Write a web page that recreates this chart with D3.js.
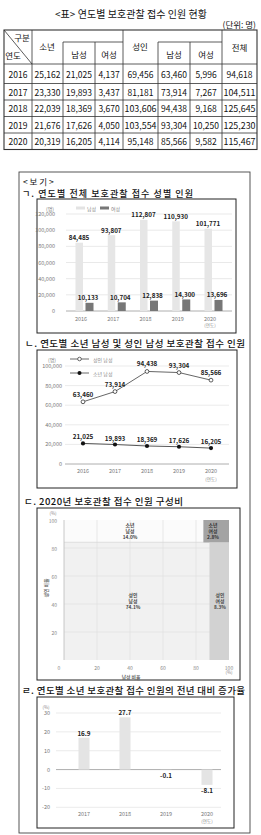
<!DOCTYPE html>
<html><head><meta charset="utf-8">
<script src="https://cdn.jsdelivr.net/npm/d3@7"></script>
<style>
body{margin:0;background:#fff;}
svg{display:block;font-family:"Noto Sans CJK KR","Noto Sans",sans-serif;}
</style></head>
<body>
<script>
// ---------- DATA ----------
const years = [2016, 2017, 2018, 2019, 2020];
const juvTotal = [25162, 23330, 22039, 21676, 20319];
const juvMale = [21025, 19893, 18369, 17626, 16205];
const juvFemale = [4137, 3437, 3670, 4050, 4114];
const adultTotal = [69456, 81181, 103606, 103554, 95148];
const adultMale = [63460, 73914, 94438, 93304, 85566];
const adultFemale = [5996, 7267, 9168, 10250, 9582];
const totalAll = [94618, 104511, 125645, 125230, 115467];

const c1Male = [84485, 93807, 112807, 110930, 101771];
const c1Female = [10133, 10704, 12838, 14300, 13696];
const c1Ticks = [0, 20000, 40000, 60000, 80000, 100000, 120000];

const c2Ticks = [0, 20000, 40000, 60000, 80000, 100000];

const mosaicCols = ["남성", "여성"];
const mosaicWidth = [88.1, 11.9];          // 남성 비율 (%)
const mosaicJuvShare = [15.9, 16.0];       // top segment height within column (%)
const mosaicLabelJuv = ["소년\n남성\n14.0%", "소년\n여성\n2.8%"];
const mosaicLabelAdult = ["성인\n남성\n74.1%", "성인\n여성\n8.3%"];
const mosaicTicks = [0, 20, 40, 60, 80, 100];

const growthYears = [2017, 2018, 2019, 2020];
const growthRate = [16.9, 27.7, -0.1, -8.1];
const growthTicks = [-20, -10, 0, 10, 20, 30];

const fmt = d3.format(",");

const svg = d3.select("body").append("svg").attr("width", 261).attr("height", 835);

function txt(g, x, y, s, o = {}) {
  const t = g.append("text").attr("x", x).attr("y", y).text(s)
    .attr("font-size", o.size || 6).attr("fill", o.fill || "#333")
    .attr("text-anchor", o.anchor || "middle")
    .attr("dominant-baseline", o.base || "central")
    .attr("font-weight", o.weight || "normal");
  if (o.len) t.attr("textLength", o.len).attr("lengthAdjust", "spacing");
  return t;
}

// ---------- TABLE ----------
txt(svg, 131, 13, "<표> 연도별 보호관찰 접수 인원 현황", {size: 10, fill: "#111", len: 152});
txt(svg, 256, 23.5, "(단위: 명)", {size: 8.5, fill: "#111", anchor: "end"});

const colX = [4, 32, 63, 95, 123, 158, 190, 222, 257];
const rowY = [64, 83.5, 100, 116.5, 133, 149.5];
const tb = svg.append("g").attr("stroke", "#333").attr("stroke-width", 0.8);
tb.append("rect").attr("x", 4).attr("y", 30).attr("width", 253).attr("height", 119.5).attr("fill", "none").attr("stroke-width", 1.1);
tb.append("line").attr("x1", 63).attr("x2", 123).attr("y1", 42).attr("y2", 42);
tb.append("line").attr("x1", 158).attr("x2", 222).attr("y1", 42).attr("y2", 42);
[32, 123, 222].forEach(x => tb.append("line").attr("x1", x).attr("x2", x).attr("y1", 30).attr("y2", 149.5));
[63, 95, 158, 190].forEach(x => tb.append("line").attr("x1", x).attr("x2", x).attr("y1", 42).attr("y2", 149.5));
rowY.slice(0, 5).forEach(y => tb.append("line").attr("x1", 4).attr("x2", 257).attr("y1", y).attr("y2", y));
tb.append("line").attr("x1", 4).attr("y1", 30).attr("x2", 32).attr("y2", 64);
const hs = {size: 8.5, fill: "#111"};
txt(svg, 22, 37, "구분", hs);
txt(svg, 13, 55, "연도", hs);
txt(svg, 47, 46, "소년", hs);
txt(svg, 79, 54, "남성", hs);
txt(svg, 109, 54, "여성", hs);
txt(svg, 140, 46, "성인", hs);
txt(svg, 174, 54, "남성", hs);
txt(svg, 206, 54, "여성", hs);
txt(svg, 239.5, 47, "전체", hs);
const cols = [years, juvTotal, juvMale, juvFemale, adultTotal, adultMale, adultFemale, totalAll];
years.forEach((yr, i) => {
  const cy = (rowY[i] + rowY[i + 1]) / 2;
  cols.forEach((arr, j) => {
    const v = arr[i];
    const s = j === 0 ? String(v) : fmt(v);
    const cx = (colX[j] + colX[j + 1]) / 2;
    const w = colX[j + 1] - colX[j] - 3;
    const t = txt(svg, cx, cy, s, {size: 8.5, fill: "#111"});
    if (s.length >= 7) t.attr("textLength", Math.min(w, 33)).attr("lengthAdjust", "spacingAndGlyphs");
  });
});

// ---------- 보기 BOX ----------
svg.append("rect").attr("x", 19).attr("y", 172).attr("width", 231).attr("height", 661)
  .attr("fill", "none").attr("stroke", "#444").attr("stroke-width", 0.9);
txt(svg, 23, 181, "< 보 기 >", {size: 8.5, fill: "#111", anchor: "start"});

const box = (x, y, w, h) => svg.append("rect").attr("x", x).attr("y", y).attr("width", w).attr("height", h)
  .attr("fill", "#fff").attr("stroke", "#222").attr("stroke-width", 1);

// ---------- CHART 1 ----------
txt(svg, 22, 193.5, "ㄱ. 연도별 전체 보호관찰 접수 성별 인원", {size: 9, fill: "#111", anchor: "start", len: 171, weight: 500});
box(37, 199, 199, 134);
const g1 = svg.append("g");
const x1 = d3.scalePoint().domain(years).range([81, 210]);
const y1 = d3.scaleLinear().domain([0, 120000]).range([311, 214]);
g1.selectAll(".gl").data(c1Ticks).join("line")
  .attr("x1", 66).attr("x2", 232).attr("y1", d => y1(d)).attr("y2", d => y1(d))
  .attr("stroke", d => d === 0 ? "#999" : "#e3e3e3").attr("stroke-width", 0.8);
g1.selectAll(".tl").data(c1Ticks).join("text")
  .attr("x", 55).attr("y", d => y1(d)).text(d => fmt(d))
  .attr("font-size", 5.5).attr("fill", "#777").attr("text-anchor", "end").attr("dominant-baseline", "central");
txt(g1, 50, 208, "(명)", {size: 5, fill: "#777"});
g1.append("rect").attr("x", 76).attr("y", 206.5).attr("width", 9).attr("height", 3).attr("fill", "#e3e3e3");
txt(g1, 87, 208, "남성", {size: 5, fill: "#888", anchor: "start"});
g1.append("rect").attr("x", 100).attr("y", 206.5).attr("width", 9).attr("height", 3).attr("fill", "#777");
txt(g1, 111, 208, "여성", {size: 5, fill: "#888", anchor: "start"});
g1.selectAll(".bm").data(years).join("rect")
  .attr("x", d => x1(d) - 5.5).attr("width", 7.5)
  .attr("y", (d, i) => y1(c1Male[i])).attr("height", (d, i) => y1(0) - y1(c1Male[i]))
  .attr("fill", "#e6e6e6");
g1.selectAll(".bf").data(years).join("rect")
  .attr("x", d => x1(d) + 4.5).attr("width", 8)
  .attr("y", (d, i) => y1(c1Female[i])).attr("height", (d, i) => y1(0) - y1(c1Female[i]))
  .attr("fill", "#777");
g1.selectAll(".lm").data(years).join("text")
  .attr("x", d => x1(d) - 2).attr("y", (d, i) => y1(c1Male[i]) - 5).text((d, i) => fmt(c1Male[i]))
  .attr("font-size", 6.3).attr("font-weight", "bold").attr("fill", "#222").attr("text-anchor", "middle").attr("dominant-baseline", "central");
g1.selectAll(".lf").data(years).join("text")
  .attr("x", d => x1(d) + 7).attr("y", (d, i) => y1(c1Female[i]) - 5).text((d, i) => fmt(c1Female[i]))
  .attr("font-size", 6.3).attr("font-weight", "bold").attr("fill", "#222").attr("text-anchor", "middle").attr("dominant-baseline", "central");
g1.selectAll(".yl").data(years).join("text")
  .attr("x", d => x1(d)).attr("y", 318.5).text(d => d)
  .attr("font-size", 5.5).attr("fill", "#777").attr("text-anchor", "middle").attr("dominant-baseline", "central");
txt(g1, x1(2020), 325, "(연도)", {size: 4.5, fill: "#888"});

// ---------- CHART 2 ----------
txt(svg, 25, 343, "ㄴ. 연도별 소년 남성 및 성인 남성 보호관찰 접수 인원", {size: 9.5, fill: "#111", anchor: "start", len: 220, weight: 500});
box(37, 350, 200, 138);
const g2 = svg.append("g");
const x2 = d3.scalePoint().domain(years).range([83, 211]);
const y2 = d3.scaleLinear().domain([0, 100000]).range([464, 366]);
g2.selectAll(".gl").data(c2Ticks).join("line")
  .attr("x1", 65).attr("x2", 229).attr("y1", d => y2(d)).attr("y2", d => y2(d))
  .attr("stroke", d => d === 0 ? "#999" : "#e6e6e6").attr("stroke-width", 0.8);
g2.selectAll(".tl").data(c2Ticks).join("text")
  .attr("x", 62).attr("y", d => y2(d)).text(d => fmt(d))
  .attr("font-size", 5.5).attr("fill", "#777").attr("text-anchor", "end").attr("dominant-baseline", "central");
txt(g2, 52, 359, "(명)", {size: 5, fill: "#777"});
g2.append("line").attr("x1", 70).attr("x2", 89).attr("y1", 359).attr("y2", 359).attr("stroke", "#444").attr("stroke-width", 0.8);
g2.append("circle").attr("cx", 79.5).attr("cy", 359).attr("r", 1.8).attr("fill", "#fff").attr("stroke", "#444").attr("stroke-width", 0.8);
txt(g2, 93, 359, "성인 남성", {size: 5, fill: "#888", anchor: "start"});
g2.append("line").attr("x1", 70).attr("x2", 89).attr("y1", 373).attr("y2", 373).attr("stroke", "#444").attr("stroke-width", 0.8);
g2.append("circle").attr("cx", 79.5).attr("cy", 373).attr("r", 2).attr("fill", "#111");
txt(g2, 93, 373, "소년 남성", {size: 5, fill: "#888", anchor: "start"});
const line2 = arr => d3.line().x((d, i) => x2(years[i])).y(d => y2(d))(arr);
g2.append("path").attr("d", line2(adultMale)).attr("fill", "none").attr("stroke", "#555").attr("stroke-width", 0.9);
g2.append("path").attr("d", line2(juvMale)).attr("fill", "none").attr("stroke", "#444").attr("stroke-width", 0.9);
g2.selectAll(".pa").data(adultMale).join("circle")
  .attr("cx", (d, i) => x2(years[i])).attr("cy", d => y2(d)).attr("r", 1.9)
  .attr("fill", "#fff").attr("stroke", "#333").attr("stroke-width", 0.8);
g2.selectAll(".pj").data(juvMale).join("circle")
  .attr("cx", (d, i) => x2(years[i])).attr("cy", d => y2(d)).attr("r", 2.1).attr("fill", "#111");
g2.selectAll(".la").data(adultMale).join("text")
  .attr("x", (d, i) => x2(years[i])).attr("y", d => y2(d) - 7.5).text(d => fmt(d))
  .attr("font-size", 6.3).attr("font-weight", "bold").attr("fill", "#222").attr("text-anchor", "middle").attr("dominant-baseline", "central");
g2.selectAll(".lj").data(juvMale).join("text")
  .attr("x", (d, i) => x2(years[i])).attr("y", d => y2(d) - 6.5).text(d => fmt(d))
  .attr("font-size", 6.3).attr("font-weight", "bold").attr("fill", "#222").attr("text-anchor", "middle").attr("dominant-baseline", "central");
g2.selectAll(".yl").data(years).join("text")
  .attr("x", d => x2(d)).attr("y", 471).text(d => d)
  .attr("font-size", 5.5).attr("fill", "#777").attr("text-anchor", "middle").attr("dominant-baseline", "central");
txt(g2, x2(2020), 479, "(연도)", {size: 4.5, fill: "#888"});

// ---------- CHART 3 (mosaic) ----------
txt(svg, 24, 501, "ㄷ. 2020년 보호관찰 접수 인원 구성비", {size: 9.5, fill: "#111", anchor: "start", len: 159, weight: 500});
box(37, 508, 203, 172);
const g3 = svg.append("g");
const xm = d3.scaleLinear().domain([0, 100]).range([64, 229]);
const ym = d3.scaleLinear().domain([0, 100]).range([660, 520]);
let acc = 0;
const colStart = mosaicWidth.map(w => { const s = acc; acc += w; return s; });
g3.append("rect").attr("x", xm(colStart[0])).attr("width", xm(mosaicWidth[0]) - xm(0))
  .attr("y", ym(100)).attr("height", ym(100 - mosaicJuvShare[0]) - ym(100)).attr("fill", "#fbfbfb");
g3.append("rect").attr("x", xm(colStart[0])).attr("width", xm(mosaicWidth[0]) - xm(0))
  .attr("y", ym(100 - mosaicJuvShare[0])).attr("height", ym(0) - ym(100 - mosaicJuvShare[0])).attr("fill", "#f1f1f1");
g3.selectAll(".gv").data(mosaicTicks.slice(1, 5)).join("line")
  .attr("x1", d => xm(d)).attr("x2", d => xm(d)).attr("y1", ym(0)).attr("y2", ym(100))
  .attr("stroke", "#e0e0e0").attr("stroke-width", 0.7);
g3.selectAll(".gh").data(mosaicTicks.slice(1, 5)).join("line")
  .attr("x1", xm(0)).attr("x2", xm(100)).attr("y1", d => ym(d)).attr("y2", d => ym(d))
  .attr("stroke", "#e0e0e0").attr("stroke-width", 0.7);
g3.append("line").attr("x1", xm(0)).attr("x2", xm(mosaicWidth[0])).attr("y1", ym(100 - mosaicJuvShare[0])).attr("y2", ym(100 - mosaicJuvShare[0]))
  .attr("stroke", "#d8d8d8").attr("stroke-width", 0.8);
g3.append("rect").attr("x", xm(colStart[1])).attr("width", xm(mosaicWidth[1]) - xm(0))
  .attr("y", ym(100 - mosaicJuvShare[1])).attr("height", ym(0) - ym(100 - mosaicJuvShare[1])).attr("fill", "#d2d2d2");
g3.append("rect").attr("x", xm(colStart[1]) - 6).attr("width", xm(mosaicWidth[1]) - xm(0) + 6)
  .attr("y", ym(100)).attr("height", ym(100 - mosaicJuvShare[1]) - ym(100)).attr("fill", "#a3a3a3");
g3.append("line").attr("x1", xm(0)).attr("x2", xm(0)).attr("y1", ym(0)).attr("y2", ym(100)).attr("stroke", "#bbb").attr("stroke-width", 0.8);
function multi(g, x, y, s, fill) {
  s.split("\n").forEach((p, k) => txt(g, x, y + k * 6, p, {size: 4.8, fill: fill, weight: "bold"}));
}
multi(g3, 130, 524, mosaicLabelJuv[0], "#444");
multi(g3, 213, 524, mosaicLabelJuv[1], "#333");
multi(g3, 133, 594, mosaicLabelAdult[0], "#444");
multi(g3, 220, 594, mosaicLabelAdult[1], "#444");
g3.selectAll(".ty").data(mosaicTicks.slice(1)).join("text")
  .attr("x", 57).attr("y", d => ym(d)).text(d => d)
  .attr("font-size", 5).attr("fill", "#888").attr("text-anchor", "end").attr("dominant-baseline", "central");
txt(g3, 53, 513, "(%)", {size: 4.5, fill: "#888"});
g3.selectAll(".tx").data(mosaicTicks).join("text")
  .attr("x", d => d === 0 ? xm(d) - 5 : xm(d)).attr("y", 667).text(d => d)
  .attr("font-size", 5).attr("fill", "#888").attr("text-anchor", "middle").attr("dominant-baseline", "central");
txt(g3, xm(100), 672, "(%)", {size: 4.5, fill: "#888"});
txt(g3, 131, 676, "남성 비율", {size: 4.8, fill: "#666", weight: "bold"});
txt(g3, 0, 0, "성인 비율", {size: 4.8, fill: "#666", weight: "bold"}).attr("transform", "translate(45,588) rotate(-90)");

// ---------- CHART 4 ----------
txt(svg, 22, 690, "ㄹ. 연도별 소년 보호관찰 접수 인원의 전년 대비 증가율", {size: 9.5, fill: "#111", anchor: "start", len: 223, weight: 500});
box(37, 697, 197, 131);
const g4 = svg.append("g");
const x4 = d3.scalePoint().domain(growthYears).range([84, 207]);
const y4 = d3.scaleLinear().domain([-20, 30]).range([807.3, 713]);
g4.selectAll(".gl").data(growthTicks).join("line")
  .attr("x1", 56).attr("x2", 221).attr("y1", d => y4(d)).attr("y2", d => y4(d))
  .attr("stroke", d => d === 0 ? "#999" : "#e6e6e6").attr("stroke-width", 0.8);
g4.selectAll(".tl").data(growthTicks).join("text")
  .attr("x", 50).attr("y", d => y4(d)).text(d => d)
  .attr("font-size", 5.5).attr("fill", "#777").attr("text-anchor", "end").attr("dominant-baseline", "central");
txt(g4, 46, 707, "(%)", {size: 4.5, fill: "#888"});
g4.selectAll(".b").data(growthRate).join("rect")
  .attr("x", (d, i) => x4(growthYears[i]) - 5.5).attr("width", 11)
  .attr("y", d => Math.min(y4(d), y4(0))).attr("height", d => Math.abs(y4(d) - y4(0)))
  .attr("fill", "#e4e4e4");
g4.selectAll(".lb").data(growthRate).join("text")
  .attr("x", (d, i) => x4(growthYears[i])).attr("y", d => d >= 0 ? y4(d) - 4.5 : y4(d) + 5.5)
  .text(d => d).attr("font-size", 6.3).attr("font-weight", "bold").attr("fill", "#222")
  .attr("text-anchor", "middle").attr("dominant-baseline", "central");
g4.selectAll(".yl").data(growthYears).join("text")
  .attr("x", d => x4(d)).attr("y", 814).text(d => d)
  .attr("font-size", 5.5).attr("fill", "#777").attr("text-anchor", "middle").attr("dominant-baseline", "central");
txt(g4, x4(2020), 820.5, "(연도)", {size: 4.5, fill: "#888"});
</script>
</body></html>
